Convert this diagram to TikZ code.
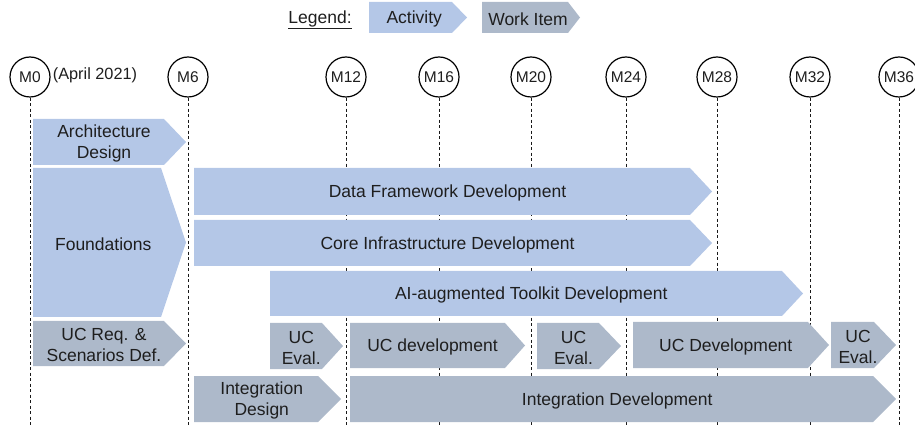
\documentclass[tikz,border=0pt]{standalone}
\usepackage{fontspec}
\setmainfont{Liberation Sans}
\definecolor{actblue}{HTML}{B4C7E7}
\definecolor{wigrey}{HTML}{ADB9CA}
\definecolor{txtc}{HTML}{1E1E1E}
\newcommand\chev[8]{%
  \fill[#7] (#2,#3) -- (#4,#3) -- (#6,{(#3+#5)/2}) -- (#4,#5) -- (#2,#5) -- cycle;
  \node[boxtxt] (#1) at ({(#2+(#4+#6)/2)/2},{(#3+#5)/2}) {#8};
}
\tikzset{
  boxtxt/.style={text=txtc, align=center, inner sep=0pt, yshift=-1.5pt, font=\fontsize{17.5}{21}\selectfont},
  ms/.style={draw=black, line width=1.2pt, circle, minimum size=40pt, inner sep=0pt, text=txtc, font=\fontsize{15.5}{18}\selectfont},
  dl/.style={draw=black!90, line width=1pt, dash pattern=on 3pt off 2.5pt},
  act/.style={fill=actblue},
  wi/.style={fill=wigrey}
}
\begin{document}
\begin{tikzpicture}[x=1pt,y=-1pt]
\useasboundingbox (0,0) rectangle (915,427);
% milestones
\foreach \n/\x in {0/30,6/188,12/346,16/439,20/531,24/626,28/717,32/810,36/899}{
  \node[ms] (m\n) at (\x,77) {M\n};
  \coordinate (b\n) at (\x,427);
  \draw[dl] (m\n.south) -- (b\n);
}
\node[text=txtc, inner sep=0pt, font=\fontsize{16.3}{19}\selectfont] (april) at (95,75) {(April 2021)};
% legend
\node[boxtxt] (legend) at (320,18) {\underline{Legend:}};
\chev{lact}{369}{2}{452}{33}{467}{act}{Activity}
\chev{lwi}{482}{2}{568}{33}{580}{wi}{Work Item}
% activities
\chev{arch}{33}{119}{164}{165}{186}{act}{Architecture\\Design}
\chev{found}{33}{168}{161}{317}{186}{act}{Foundations}
\chev{dfd}{194}{168}{690}{215}{712}{act}{Data Framework Development}
\chev{cid}{194}{220}{690}{266}{712}{act}{Core Infrastructure Development}
\chev{ai}{270}{271}{782}{316}{803}{act}{AI-augmented Toolkit Development}
% work items
\chev{ucreq}{33}{321}{164}{366}{186}{wi}{UC Req. \&\\Scenarios Def.}
\chev{uce1}{270}{323}{322}{369}{343}{wi}{UC\\Eval.}
\chev{ucdev}{350}{323}{505}{368}{525}{wi}{UC development}
\chev{uce2}{537}{323}{599}{369}{621}{wi}{UC\\Eval.}
\chev{ucdevb}{633}{322}{808}{368}{829}{wi}{UC Development}
\chev{uce3}{831}{322}{874}{368}{896}{wi}{UC\\Eval.}
\chev{intd}{194}{376}{318}{422}{341}{wi}{Integration\\Design}
\chev{intdev}{350}{376}{873}{422}{896}{wi}{Integration Development}
\end{tikzpicture}
\end{document}
